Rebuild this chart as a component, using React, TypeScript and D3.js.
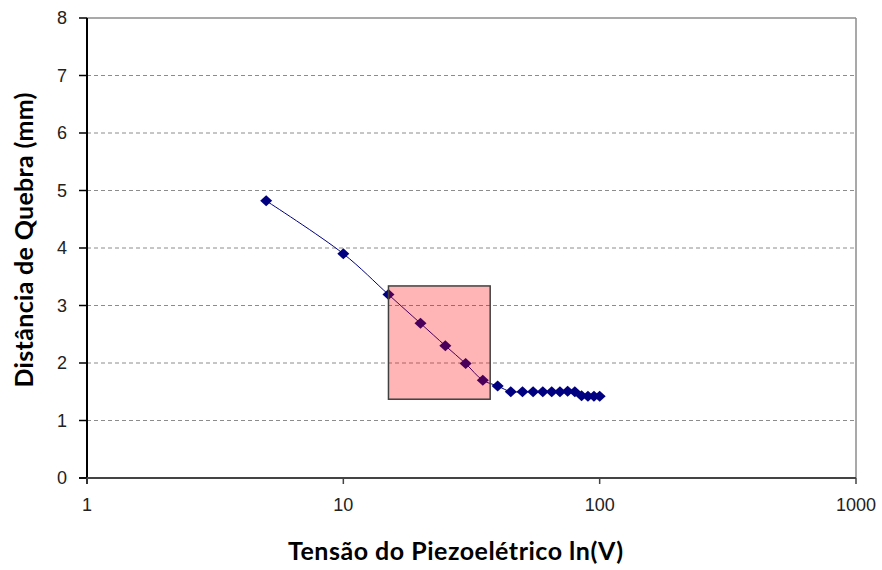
import React from "react";
import * as d3 from "d3";

const voltages = [5, 10, 15, 20, 25, 30, 35, 40, 45, 50, 55, 60, 65, 70, 75, 80, 85, 90, 95, 100];
const distances = [4.82, 3.9, 3.19, 2.69, 2.3, 1.99, 1.7, 1.6, 1.5, 1.5, 1.5, 1.5, 1.5, 1.5, 1.51, 1.5, 1.43, 1.42, 1.42, 1.42];
const xTicks = [1, 10, 100, 1000];
const yTicks = [0, 1, 2, 3, 4, 5, 6, 7, 8];
const highlightX = [15, 37.4];
const highlightY = [1.37, 3.34];
const xTitle = "Tensão do Piezoelétrico ln(V)";
const yTitle = "Distância de Quebra (mm)";

export default function App() {
  const W = 882, H = 570;
  const left = 87, right = 856, top = 18, bottom = 478;
  const x = d3.scaleLog().domain([1, 1000]).range([left, right]);
  const y = d3.scaleLinear().domain([0, 8]).range([bottom, top]);
  const pts = voltages.map((v, i) => [x(v), y(distances[i])] as [number, number]);
  const line = d3.line().curve(d3.curveCatmullRom.alpha(0.5))(pts) || "";
  const diamond = (cx: number, cy: number) => `M${cx},${cy - 5.5}L${cx + 6},${cy}L${cx},${cy + 5.5}L${cx - 6},${cy}Z`;
  const font = "'Liberation Sans', Arial, sans-serif";
  const tfont = "Lato, 'Open Sans', sans-serif";
  return (
    <svg width={W} height={H} style={{ position: "absolute", left: 0, top: 0, background: "#fff" }}>
      <rect x={0} y={0} width={W} height={H} fill="#fff" />
      {yTicks.filter(t => t > 0 && t < 8).map(t => (
        <line key={t} x1={left} x2={right} y1={y(t)} y2={y(t)} stroke="#8c8c8c" strokeWidth={1} strokeDasharray="4,3" />
      ))}
      <line x1={left} x2={right} y1={top} y2={top} stroke="#8c8c8c" strokeWidth={1.5} />
      <line x1={right} x2={right} y1={top} y2={bottom} stroke="#8c8c8c" strokeWidth={1.5} />
      <path d={line} fill="none" stroke="#000080" strokeWidth={1} />
      {pts.map((p, i) => (
        <path key={i} d={diamond(p[0], p[1])} fill="#000080" />
      ))}
      <rect x={x(highlightX[0])} y={y(highlightY[1])} width={x(highlightX[1]) - x(highlightX[0])} height={y(highlightY[0]) - y(highlightY[1])}
        fill="rgba(255,0,0,0.29)" stroke="#404040" strokeWidth={1.5} />
      <line x1={left} x2={left} y1={top} y2={bottom + 6} stroke="#000" strokeWidth={2} />
      <line x1={left - 8} x2={right} y1={bottom} y2={bottom} stroke="#444" strokeWidth={2} />
      {yTicks.map(t => (
        <g key={t}>
          <line x1={left - 8} x2={left} y1={y(t)} y2={y(t)} stroke="#000" strokeWidth={1.5} />
          <text x={left - 20} y={y(t)} dy="0.36em" textAnchor="end" fontFamily={font} fontSize={18} fill="#222">{t}</text>
        </g>
      ))}
      {xTicks.map(t => (
        <g key={t}>
          <line x1={x(t)} x2={x(t)} y1={bottom} y2={bottom + 6} stroke="#444" strokeWidth={1.5} />
          <text x={x(t)} y={511} textAnchor="middle" fontFamily={font} fontSize={18} fill="#222">{t}</text>
        </g>
      ))}
      <text x={455.5} y={560} textAnchor="middle" fontFamily={tfont} fontWeight="bold" fontSize={25} textLength={335} lengthAdjust="spacing" fill="#000">{xTitle}</text>
      <text transform="translate(33,240) rotate(-90)" textAnchor="middle" fontFamily={tfont} fontWeight="bold" fontSize={25} textLength={295} lengthAdjust="spacing" fill="#000">{yTitle}</text>
    </svg>
  );
}
